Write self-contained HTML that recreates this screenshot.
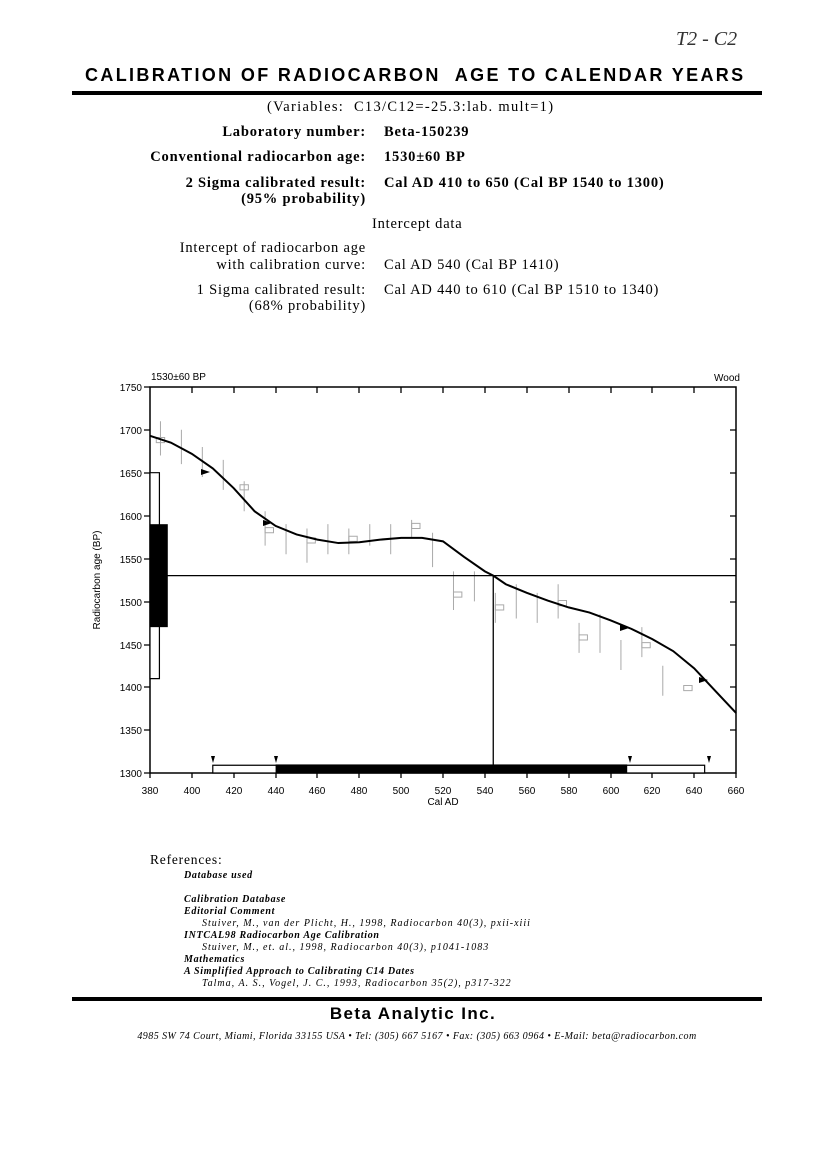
<!DOCTYPE html>
<html><head><meta charset="utf-8"><style>
body{margin:0;background:#fff;width:826px;height:1169px;position:relative;overflow:hidden;font-family:"Liberation Serif",serif;color:#000}
.a{position:absolute;white-space:nowrap}
.r{text-align:right;width:300px;left:66px}
.b{font-weight:bold}
.t{font-size:14.5px;letter-spacing:0.8px}
</style></head><body>
<div class="a" style="left:676px;top:28px;font-size:20px;font-style:italic;color:#333;">T2 - C2</div>
<div class="a b" style="left:85px;top:65px;font-family:'Liberation Sans',sans-serif;font-size:18px;letter-spacing:2.35px;">CALIBRATION OF RADIOCARBON&nbsp; AGE TO CALENDAR YEARS</div>
<div class="a" style="left:72px;top:91px;width:690px;height:4px;background:#000"></div>
<div class="a" style="left:267px;top:99px;font-size:14.5px;letter-spacing:1.3px;">(Variables:&nbsp; C13/C12=-25.3:lab. mult=1)</div>
<div class="a r b t" style="top:124px;">Laboratory number:</div>
<div class="a b t" style="left:384px;top:124px;">Beta-150239</div>
<div class="a r b t" style="top:149px;">Conventional radiocarbon age:</div>
<div class="a b t" style="left:384px;top:149px;">1530±60 BP</div>
<div class="a r b t" style="top:175px;">2 Sigma calibrated result:</div>
<div class="a b t" style="left:384px;top:175px;">Cal AD 410 to 650 (Cal BP 1540 to 1300)</div>
<div class="a r b t" style="top:191px;">(95% probability)</div>
<div class="a t" style="left:372px;top:216px;">Intercept data</div>
<div class="a r t" style="top:240px;">Intercept of radiocarbon age</div>
<div class="a r t" style="top:257px;">with calibration curve:</div>
<div class="a t" style="left:384px;top:257px;">Cal AD 540 (Cal BP 1410)</div>
<div class="a r t" style="top:282px;">1 Sigma calibrated result:</div>
<div class="a t" style="left:384px;top:282px;">Cal AD 440 to 610 (Cal BP 1510 to 1340)</div>
<div class="a r t" style="top:298px;">(68% probability)</div>

<svg class="a" style="left:0;top:0" width="826" height="1169" font-family="Liberation Sans, sans-serif" font-size="10">
<text x="151" y="380">1530±60 BP</text>
<text x="740" y="381" text-anchor="end">Wood</text>
<rect x="150" y="387" width="586" height="386" fill="none" stroke="#000" stroke-width="1.5"/>
<g stroke="#000" stroke-width="1.3">
<path d="M192 387v6M234 387v6M276 387v6M317 387v6M359 387v6M401 387v6M443 387v6M485 387v6M527 387v6M569 387v6M611 387v6M652 387v6M694 387v6
M150 773v5M192 773v5M234 773v5M276 773v5M317 773v5M359 773v5M401 773v5M443 773v5M485 773v5M527 773v5M569 773v5M611 773v5M652 773v5M694 773v5M736 773v5
M144 387h6M144 430h6M144 473h6M144 516h6M144 559h6M144 602h6M144 645h6M144 687h6M144 730h6M144 773h6
M730 430h6M730 473h6M730 516h6M730 559h6M730 602h6M730 645h6M730 687h6M730 730h6"/>
</g>
<g text-anchor="end">
<text x="142" y="391">1750</text><text x="142" y="434">1700</text><text x="142" y="477">1650</text><text x="142" y="520">1600</text><text x="142" y="563">1550</text><text x="142" y="606">1500</text><text x="142" y="649">1450</text><text x="142" y="691">1400</text><text x="142" y="734">1350</text><text x="142" y="777">1300</text>
</g>
<g text-anchor="middle">
<text x="150" y="794">380</text><text x="192" y="794">400</text><text x="234" y="794">420</text><text x="276" y="794">440</text><text x="317" y="794">460</text><text x="359" y="794">480</text><text x="401" y="794">500</text><text x="443" y="794">520</text><text x="485" y="794">540</text><text x="527" y="794">560</text><text x="569" y="794">580</text><text x="611" y="794">600</text><text x="652" y="794">620</text><text x="694" y="794">640</text><text x="736" y="794">660</text>
<text x="443" y="805">Cal AD</text>
</g>
<text transform="translate(100,580) rotate(-90)" text-anchor="middle">Radiocarbon age (BP)</text>
<g transform="translate(150,773) scale(2.093,-0.858)">
<g stroke="#aaa" fill="none">
<path vector-effect="non-scaling-stroke" d="M5 370v40M15 360v40M25 345v35M35 330v35M45 305v35M55 265v40M65 255v35M75 245v40M85 255v35M95 255v30M105 265v25M115 255v35M125 275v20M135 240v40M145 190v45M155 200v35M165 175v35M175 180v40M185 175v35M195 180v40M205 140v35M215 140v45M225 120v35M235 135v35M245 90v35"/>
<path vector-effect="non-scaling-stroke" d="M3 385h4v6h-4zM43 330h4v6h-4zM55 280h4v6h-4zM75 268h4v6h-4zM95 270h4v6h-4zM125 285h4v6h-4zM145 205h4v6h-4zM165 190h4v6h-4zM195 195h4v6h-4zM205 155h4v6h-4zM235 146h4v6h-4zM255 96h4v6h-4z"/>
</g>
<polyline vector-effect="non-scaling-stroke" fill="none" stroke="#000" stroke-width="2" points="0,393 10,385 20,372 30,355 40,332 50,305 60,288 70,278 80,272 90,268 100,269 110,272 120,274 130,274 140,270 150,252 160,235 164,230 170,220 180,210 190,201 200,193 210,187 220,178 230,168 240,156 250,142 260,122 270,96 280,70"/>
<path vector-effect="non-scaling-stroke" stroke="#000" stroke-width="1.3" d="M0 230H280M164 0V230"/>
<rect x="0" y="110" width="4.5" height="240" fill="#fff" stroke="#000" stroke-width="1.2" vector-effect="non-scaling-stroke"/>
<rect x="0" y="170" width="8.5" height="120" fill="#000"/>
<rect x="30" y="0" width="235" height="9" fill="#fff" stroke="#000" stroke-width="1.2" vector-effect="non-scaling-stroke"/>
<rect x="60" y="0" width="168" height="10" fill="#000"/>
</g>
<g fill="#000">
<path d="M211 756h4l-2 7zM274 756h4l-2 7zM628 756h4l-2 7zM707 756h4l-2 7z"/>
<path d="M201 469l9 3-9 3zM263 520l9 3-9 3zM620 625l9 3-9 3zM699 677l9 3-9 3z"/>
</g>
</svg>

<div class="a" style="left:150px;top:852px;font-size:13.5px;letter-spacing:0.8px;">References:</div>
<div class="a" style="left:184px;top:870px;font-size:10px;font-style:italic;font-weight:bold;line-height:12px;letter-spacing:0.7px;">
Database used<br><br>Calibration Database<br>Editorial Comment<br>
<span style="font-weight:normal;padding-left:18px;letter-spacing:1px">Stuiver, M., van der Plicht, H., 1998, Radiocarbon 40(3), pxii-xiii</span><br>
INTCAL98 Radiocarbon Age Calibration<br>
<span style="font-weight:normal;padding-left:18px;letter-spacing:1px">Stuiver, M., et. al., 1998, Radiocarbon 40(3), p1041-1083</span><br>
Mathematics<br>A Simplified Approach to Calibrating C14 Dates<br>
<span style="font-weight:normal;padding-left:18px;letter-spacing:1px">Talma, A. S., Vogel, J. C., 1993, Radiocarbon 35(2), p317-322</span></div>
<div class="a" style="left:72px;top:997px;width:690px;height:4px;background:#000"></div>
<div class="a b" style="left:0;width:826px;text-align:center;top:1004px;font-family:'Liberation Sans',sans-serif;font-size:17px;letter-spacing:1.4px;">Beta Analytic Inc.</div>
<div class="a" style="left:0;width:834px;text-align:center;top:1031px;font-size:10px;font-style:italic;letter-spacing:0.45px;">4985 SW 74 Court, Miami, Florida 33155 USA • Tel: (305) 667 5167 • Fax: (305) 663 0964 • E-Mail: beta@radiocarbon.com</div>
</body></html>
